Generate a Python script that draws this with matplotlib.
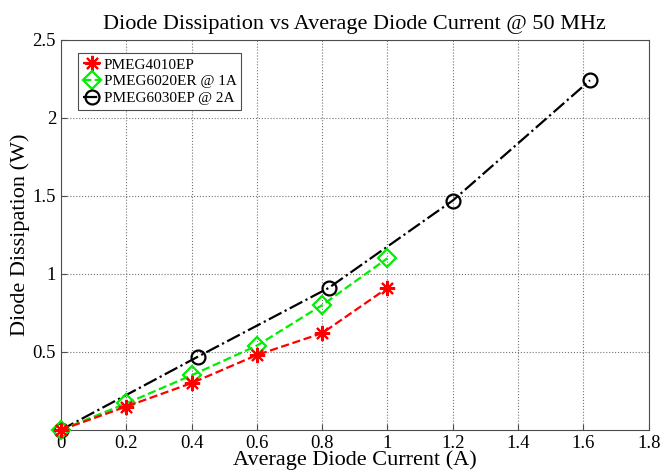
import numpy as np
import matplotlib
matplotlib.use("Agg")
import matplotlib.pyplot as plt

plt.rcParams['font.family'] = ['Liberation Serif', 'DejaVu Serif']
plt.rcParams['mathtext.fontset'] = 'stix'

# data
x_4010 = [0, 0.2, 0.4, 0.6, 0.8, 1.0]
y_4010 = [0, 0.15, 0.30, 0.48, 0.62, 0.91]
x_6020 = [0, 0.2, 0.4, 0.6, 0.8, 1.0]
y_6020 = [0, 0.17, 0.35, 0.54, 0.80, 1.10]
x_6030 = [0, 0.42, 0.82, 1.2, 1.62]
y_6030 = [0, 0.47, 0.91, 1.47, 2.24]
xticks = [0, 0.2, 0.4, 0.6, 0.8, 1.0, 1.2, 1.4, 1.6, 1.8]
xticklabels = ['0', '0.2', '0.4', '0.6', '0.8', '1', '1.2', '1.4', '1.6', '1.8']
yticks = [0.5, 1.0, 1.5, 2.0, 2.5]
yticklabels = ['0.5', '1', '1.5', '2', '2.5']

fig = plt.figure(figsize=(6.62, 4.73), dpi=100)
ax = fig.add_axes([0.092, 0.091, 0.888, 0.825])

ax.plot(x_4010, y_4010, color='#ff0000', ls='--', lw=1.6, marker=(8, 2, 0), ms=11,
        mew=1.5, clip_on=False, zorder=4, label='PMEG4010EP')
ax.plot(x_6020, y_6020, color='#00ee00', ls='--', lw=1.6, marker='D', ms=9,
        mfc='none', mew=1.6, clip_on=False, zorder=3, label='PMEG6020ER @ 1A')
ax.plot(x_6030, y_6030, color='k', ls='-.', lw=1.6, marker='o', ms=10,
        mfc='none', mew=1.6, clip_on=False, zorder=2, label='PMEG6030EP @ 2A')

ax.set_xlim(0, 1.8)
ax.set_ylim(0, 2.5)
ax.set_xticks(xticks)
ax.set_xticklabels(xticklabels)
ax.set_yticks(yticks)
ax.set_yticklabels(yticklabels)
ax.grid(True, ls=':', color='0.45', lw=0.8)
ax.tick_params(labelsize=13.5, direction='in', length=4, color='0.3')
for s in ax.spines.values():
    s.set_color('0.3')

ax.set_title('Diode Dissipation vs Average Diode Current @ 50 MHz', fontsize=16, pad=8)
ax.set_xlabel('Average Diode Current (A)', fontsize=16, labelpad=-1)
ax.set_ylabel('Diode Dissipation (W)', fontsize=16, labelpad=2)

leg = ax.legend(loc='upper left', bbox_to_anchor=(0.016, 0.985), fontsize=11,
                handlelength=1.2, handletextpad=0.2, borderpad=0.3, labelspacing=0.2,
                fancybox=False, framealpha=1, edgecolor='0.3')
leg.get_frame().set_linewidth(0.8)

fig.savefig('out.png', dpi=100)
plt.close(fig)
